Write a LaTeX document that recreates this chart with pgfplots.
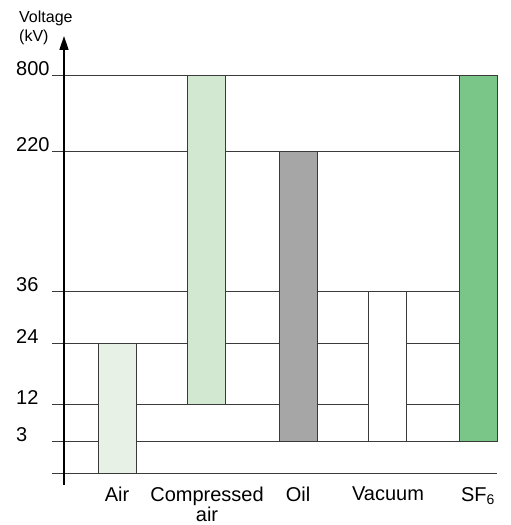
\documentclass[border=0pt]{standalone}
\usepackage{fontspec}
\setmainfont{Liberation Sans}
\usepackage{pgfplots}
\pgfplotsset{compat=1.18}
\usetikzlibrary{arrows.meta}
\definecolor{airc}{HTML}{E8F1E5}
\definecolor{compc}{HTML}{D2E8D0}
\definecolor{oilc}{HTML}{A6A6A6}
\definecolor{vacc}{HTML}{FFFFFF}
\definecolor{sfc}{HTML}{7AC688}
\definecolor{gridc}{HTML}{3A3A3A}
\begin{document}
\begin{tikzpicture}
\begin{axis}[
  scale only axis, width=511pt, height=525pt,
  xmin=0, xmax=511, ymin=0, ymax=525,
  axis line style={draw=none}, tick style={draw=none},
  clip=false,
  ytick={84,121,182,234,374,450},
  yticklabels={3,12,24,36,220,800},
  yticklabel style={anchor=base west, inner sep=0pt, xshift=16pt, yshift=-1pt, font=\fontsize{20}{20}\selectfont},
  xtick={117,207,298,388,478},
  xticklabels={Air, {Compressed\\air}, Oil, Vacuum, SF\textsubscript{6}},
  xticklabel style={anchor=north, align=center, inner sep=0pt, yshift=38pt, font=\fontsize{20}{17}\selectfont},
]
% grid lines
\addplot[gridc, line width=0.8pt, forget plot] coordinates {(52,52) (497,52)};
\addplot[gridc, line width=0.8pt, forget plot] coordinates {(52,84) (497,84)};
\addplot[gridc, line width=0.8pt, forget plot] coordinates {(52,121) (497,121)};
\addplot[gridc, line width=0.8pt, forget plot] coordinates {(52,182) (497,182)};
\addplot[gridc, line width=0.8pt, forget plot] coordinates {(52,234) (497,234)};
\addplot[gridc, line width=0.8pt, forget plot] coordinates {(52,374) (497,374)};
\addplot[gridc, line width=0.8pt, forget plot] coordinates {(52,450) (497,450)};
% bars
\addplot[fill=airc, draw=gridc, line width=0.8pt] coordinates {(98,52) (136,52) (136,182) (98,182)} --cycle;
\addplot[fill=compc, draw=gridc, line width=0.8pt] coordinates {(187,121) (225,121) (225,450) (187,450)} --cycle;
\addplot[fill=oilc, draw=gridc, line width=0.8pt] coordinates {(279,84) (317,84) (317,374) (279,374)} --cycle;
\addplot[fill=vacc, draw=gridc, line width=0.8pt] coordinates {(368,84) (406,84) (406,234) (368,234)} --cycle;
\addplot[fill=sfc, draw=gridc, line width=0.8pt] coordinates {(459,84) (497,84) (497,450) (459,450)} --cycle;
% y axis arrow
\draw[black, line width=1.5pt, -{Triangle[length=14pt,width=9pt]}] (axis cs:64,40) -- (axis cs:64,489);
\node[anchor=north west, align=left, inner sep=0pt, font=\fontsize{16}{19}\selectfont] at (axis cs:19,514) {Voltage\\(kV)};
\end{axis}
\end{tikzpicture}
\end{document}
